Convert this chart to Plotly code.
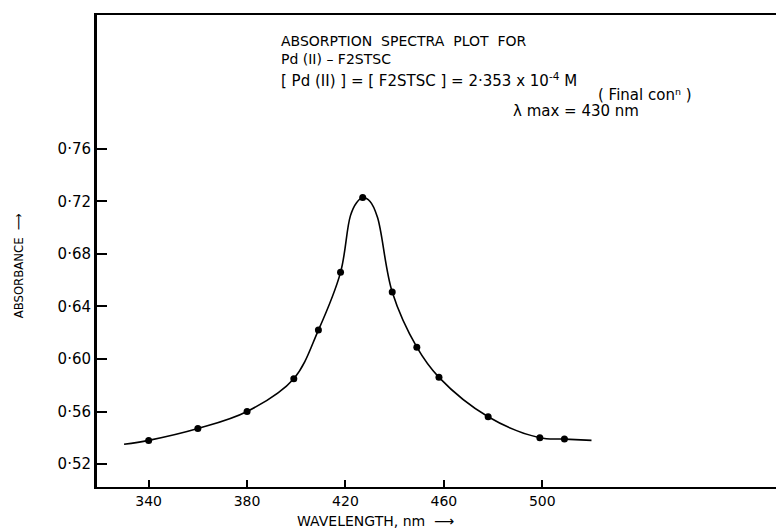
import plotly.graph_objects as go

wavelength = [340, 360, 380, 399, 409, 418, 427, 439, 449, 458, 478, 499, 509]
absorbance = [0.538, 0.547, 0.560, 0.585, 0.622, 0.666, 0.723, 0.651, 0.609, 0.586, 0.556, 0.540, 0.539]

# Hand-drawn curve
curve_x = [330, 340, 360, 380, 399, 409, 418, 422, 424.5, 427, 430, 433, 439, 449, 458, 478, 499, 509, 520]
curve_y = [0.535, 0.538, 0.547, 0.560, 0.585, 0.622, 0.666, 0.709, 0.719, 0.723, 0.720, 0.708,
           0.651, 0.609, 0.586, 0.556, 0.540, 0.539, 0.538]

x_ticks = [340, 380, 420, 460, 500]
x_ticktext = ["340", "380", "420", "460", "500"]
y_ticks = [0.52, 0.56, 0.60, 0.64, 0.68, 0.72, 0.76]
y_ticktext = ["0·52", "0·56", "0·60", "0·64", "0·68", "0·72", "0·76"]

FONT = "DejaVu Sans"

fig = go.Figure()
fig.add_trace(go.Scatter(
    x=curve_x, y=curve_y, mode="lines",
    line=dict(color="black", width=1.6, shape="spline", smoothing=1.0),
    hoverinfo="skip", showlegend=False,
))
fig.add_trace(go.Scatter(
    x=wavelength, y=absorbance, mode="markers",
    marker=dict(color="black", size=7, symbol="circle"),
    showlegend=False,
))

fig.update_layout(
    width=776, height=528,
    margin=dict(l=97, r=0, t=15, b=41),
    paper_bgcolor="white", plot_bgcolor="white",
    font=dict(family=FONT, color="black", size=13),
    xaxis=dict(
        range=[319, 595], showgrid=False, zeroline=False,
        showline=True, linecolor="black", linewidth=2, mirror=True,
        ticks="inside", ticklen=7, tickwidth=1.5, tickcolor="black",
        tickvals=x_ticks, ticktext=x_ticktext,
        tickfont=dict(family=FONT, size=14),
    ),
    yaxis=dict(
        range=[0.5025, 0.862], showgrid=False, zeroline=False,
        showline=True, linecolor="black", linewidth=3,
        ticks="inside", ticklen=10, tickwidth=1.5, tickcolor="black",
        tickvals=y_ticks, ticktext=y_ticktext,
        tickfont=dict(family=FONT, size=15),
    ),
    annotations=[
        dict(text="WAVELENGTH, nm  ⟶", xref="paper", yref="paper",
             x=0.41, y=-0.071, xanchor="center", yanchor="middle",
             showarrow=False, font=dict(family=FONT, size=14)),
        dict(text="ABSORBANCE  ⟶", xref="paper", yref="paper",
             x=-0.116, y=0.468, xanchor="center", yanchor="middle",
             textangle=-90, showarrow=False,
             font=dict(family="DejaVu Sans Condensed", size=13)),
        dict(text="ABSORPTION  SPECTRA  PLOT  FOR", xref="paper", yref="paper",
             x=0.268, y=0.944, xanchor="left", yanchor="middle",
             showarrow=False, font=dict(family=FONT, size=14)),
        dict(text="Pd (II) – F2STSC", xref="paper", yref="paper",
             x=0.268, y=0.906, xanchor="left", yanchor="middle",
             showarrow=False, font=dict(family=FONT, size=14)),
        dict(text="[ Pd (II) ] = [ F2STSC ] = 2·353 x 10<sup>-4</sup> M", xref="paper", yref="paper",
             x=0.268, y=0.8623, xanchor="left", yanchor="middle",
             showarrow=False, font=dict(family=FONT, size=15)),
        dict(text="( Final conⁿ )", xref="paper", yref="paper",
             x=0.807, y=0.8305, xanchor="center", yanchor="middle",
             showarrow=False, font=dict(family=FONT, size=15)),
        dict(text="λ max = 430 nm", xref="paper", yref="paper",
             x=0.706, y=0.7966, xanchor="center", yanchor="middle",
             showarrow=False, font=dict(family=FONT, size=15)),
    ],
)

fig.write_html("out.html", config={"displayModeBar": False},
               post_script="document.body.style.margin='0px';document.body.style.overflow='hidden';")
